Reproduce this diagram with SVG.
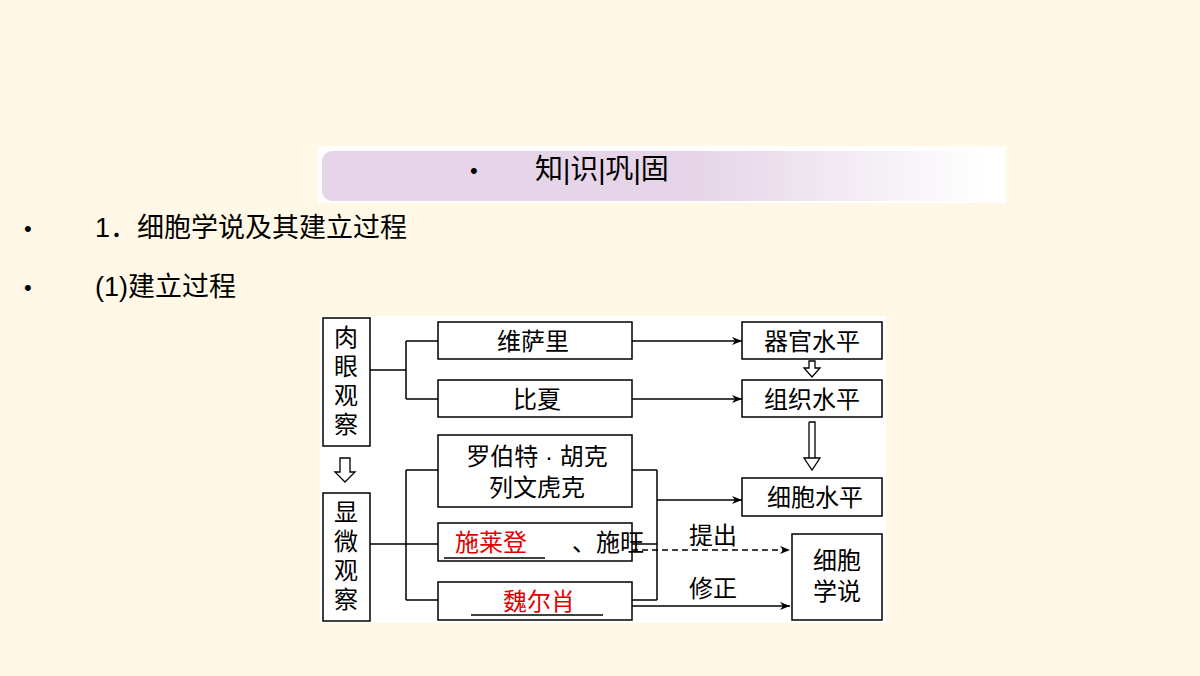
<svg xmlns="http://www.w3.org/2000/svg" width="1200" height="676" viewBox="0 0 1200 676">
<defs>
<linearGradient id="g" x1="0" x2="1" y1="0" y2="0"><stop offset="0" stop-color="#E6D5E8"/><stop offset="0.55" stop-color="#E6D5E8"/><stop offset="0.97" stop-color="#FFFFFF"/></linearGradient>
<marker id="a" markerWidth="10" markerHeight="8" refX="10" refY="4" orient="auto" markerUnits="userSpaceOnUse"><path d="M0,0 L10,4 L0,8 L3,4 Z" fill="#000"/></marker>
<style>
text{font-family:"Liberation Sans","Noto Sans CJK SC",sans-serif;}
.b{fill:#fff;stroke:#000;stroke-width:1.5}
.t{font-size:24px;fill:#000;text-anchor:middle}
.r{fill:#E00000}
.l{fill:none;stroke:#000;stroke-width:1.5}
.h{fill:#fff;stroke:#000;stroke-width:1.3}
</style>
</defs>
<rect width="1200" height="676" fill="#FFF8E6"/>
<rect x="318" y="146" width="688" height="57" fill="#fff"/>
<rect x="322" y="151" width="684" height="50" rx="10" fill="url(#g)"/>
<text x="470" y="178" style="font-size:22px">•</text>
<text x="535" y="179" style="font-size:28px">知|识|巩|固</text>
<text x="24" y="236" style="font-size:22px">•</text>
<text x="95" y="237" style="font-size:27px">1．细胞学说及其建立过程</text>
<text x="24" y="295" style="font-size:22px">•</text>
<text x="95" y="296" style="font-size:27px">(1)建立过程</text>
<rect x="320" y="316" width="566" height="307" fill="#fff"/>
<g id="n1"><rect class="b" x="323" y="318" width="47" height="128"/><text class="t" x="346" y="346">肉</text><text class="t" x="346" y="375">眼</text><text class="t" x="346" y="404">观</text><text class="t" x="346" y="433">察</text></g>
<g id="n2"><rect class="b" x="323" y="493" width="47" height="128"/><text class="t" x="346" y="521">显</text><text class="t" x="346" y="550">微</text><text class="t" x="346" y="579">观</text><text class="t" x="346" y="608">察</text></g>
<g id="n3"><rect class="b" x="438" y="322" width="194" height="37"/><text class="t" x="533" y="350">维萨里</text></g>
<g id="n4"><rect class="b" x="438" y="380" width="194" height="37"/><text class="t" x="537" y="408">比夏</text></g>
<g id="n5"><rect class="b" x="438" y="435" width="194" height="72"/><text class="t" x="537" y="465">罗伯特 · 胡克</text><text class="t" x="537" y="496">列文虎克</text></g>
<g id="n6"><rect class="b" x="438" y="523" width="194" height="38"/><text class="t r" x="491" y="551">施莱登</text><text x="572" y="551" style="font-size:24px">、施旺</text><line x1="444" y1="558" x2="545" y2="558" stroke="#000" stroke-width="1.3"/></g>
<g id="n7"><rect class="b" x="438" y="582" width="194" height="38"/><text class="t r" x="539" y="610">魏尔肖</text><line x1="471" y1="615" x2="603" y2="615" stroke="#000" stroke-width="1.3"/></g>
<g id="n8"><rect class="b" x="742" y="322" width="140" height="37"/><text class="t" x="812" y="350">器官水平</text></g>
<g id="n9"><rect class="b" x="742" y="380" width="140" height="37"/><text class="t" x="812" y="408">组织水平</text></g>
<g id="n10"><rect class="b" x="742" y="478" width="140" height="38"/><text class="t" x="815" y="506">细胞水平</text></g>
<g id="n11"><rect class="b" x="792" y="534" width="90" height="86"/><text class="t" x="837" y="569">细胞</text><text class="t" x="837" y="600">学说</text></g>
<g id="connectors">
<path class="l" d="M370,370 H406 M406,341 V399 M406,341 H438 M406,399 H438"/>
<path class="l" d="M370,544 H438 M406,470 V600 M406,470 H438 M406,600 H438"/>
<path class="l" d="M632,470 H657 M632,544 H657 M632,600 H657 M657,470 V600"/>
<path class="l" d="M632,341 H742" marker-end="url(#a)"/>
<path class="l" d="M632,399 H742" marker-end="url(#a)"/>
<path class="l" d="M657,500 H742" marker-end="url(#a)"/>
<path class="l" d="M632,550 H790" stroke-dasharray="6,4" marker-end="url(#a)"/>
<path class="l" d="M632,606 H790" marker-end="url(#a)"/>
<path class="h" d="M340,458 H350 V472 H355 L345,482 L335,472 H340 Z"/>
<path class="h" d="M809,361 H815 V368 H820 L812,377 L804,368 H809 Z"/>
<path class="h" d="M809,422 H815 V458 H820 L812,470 L804,458 H815 M809,458 V422" />
<text class="t" x="713" y="544">提出</text>
<text class="t" x="713" y="597">修正</text>
</g>
</svg>
